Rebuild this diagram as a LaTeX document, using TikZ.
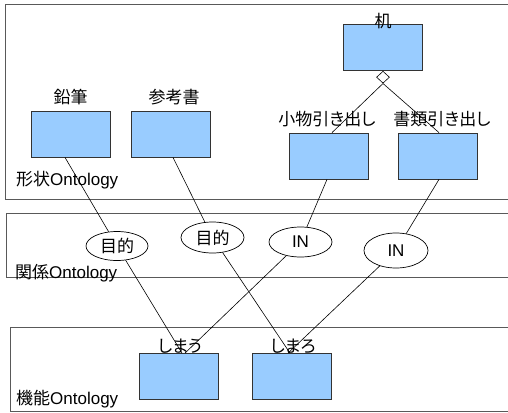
\documentclass[tikz,border=0pt]{standalone}
\usepackage{fontspec}
\setmainfont{Liberation Sans}
\newfontfamily\jp[RawFeature=+palt]{Noto Sans CJK JP}
\usetikzlibrary{shapes.geometric}
\definecolor{boxblue}{HTML}{99CCFF}
\begin{document}
\begin{tikzpicture}[x=1pt,y=-1pt,
  frame/.style={draw=black!65, line width=0.8pt},
  cls/.style={draw=black!80, fill=boxblue, minimum width=79pt, minimum height=46pt, inner sep=0pt, line width=0.8pt},
  rel/.style={ellipse, draw, fill=white, inner sep=0pt, line width=0.7pt, font=\fontsize{17}{20}\selectfont},
  lbl/.style={inner sep=0pt, font=\fontsize{17}{20}\selectfont\jp},
  olbl/.style={inner sep=0pt, anchor=base west, font=\fontsize{17}{20}\selectfont},
  conn/.style={draw, line width=0.6pt}]
\clip (0,0) rectangle (508,412);
\fill[white] (0,0) rectangle (508,412);
% frames
\draw[frame] (5,4) rectangle (530,199);
\draw[frame] (6,213) rectangle (530,277);
\draw[frame] (10,327) rectangle (530,411);
% ontology labels
\node[olbl] (o1) at (16,185.5) {{\jp 形状}Ontology};
\node[olbl] (o2) at (15,278.5) {{\jp 関係}Ontology};
\node[olbl] (o3) at (16,404.5) {{\jp 機能}Ontology};
% shape ontology
\node[cls] (p1) at (70.5,134) {};
\node[cls] (p2) at (170.5,134) {};
\node[cls] (desk) at (383,47.5) {};
\node[cls] (d1) at (328.5,156) {};
\node[cls] (d2) at (437.5,156) {};
\node[lbl, anchor=base] (lp1) at (70.5,103.5) {鉛筆};
\node[lbl, anchor=base] (lp2) at (174,103.5) {参考書};
\node[lbl, anchor=base] (ldesk) at (383,28) {机};
\node[lbl, anchor=base] (ld1) at (327,125.5) {小物引き出し};
\node[lbl, anchor=base] (ld2) at (442,125.5) {書類引き出し};
\node[diamond, draw, fill=white, minimum width=13pt, minimum height=12pt, inner sep=0pt, line width=0.6pt, anchor=north] (dm) at (desk.south) {};
% relation ontology
\node[rel, minimum width=62pt, minimum height=29pt] (e1) at (117,246) {\jp 目的};
\node[rel, minimum width=63pt, minimum height=31pt] (e2) at (212.5,237.5) {\jp 目的};
\node[rel, minimum width=63pt, minimum height=30pt] (e3) at (300.5,242) {IN};
\node[rel, minimum width=64pt, minimum height=35pt] (e4) at (396,250.5) {IN};
% function ontology
\node[cls] (f1) at (178.5,376.5) {};
\node[cls] (f2) at (291.5,376.5) {};
\node[lbl, anchor=base] (lf1) at (180,352) {しまう};
\node[lbl, anchor=base] (lf2) at (293,352) {しまろ};
% connectors
\draw[conn] (dm.south) -- ([xshift=3.5pt]d1.north);
\draw[conn] (dm.south) -- ([xshift=1.5pt]d2.north);
\draw[conn] ([xshift=-5.5pt]p1.south) -- (e1);
\draw[conn] ([xshift=2.5pt]p2.south) -- (e2);
\draw[conn] ([xshift=-1.5pt]d1.south) -- (e3);
\draw[conn] ([xshift=1.5pt]d2.south) -- (e4);
\draw[conn] (e1) -- ([xshift=3.5pt]f1.north);
\draw[conn] (e3) -- ([xshift=6.5pt]f1.north);
\draw[conn] (e2) -- ([xshift=-1.5pt]f2.north);
\draw[conn] (e4) -- ([xshift=-3.5pt]f2.north);
\end{tikzpicture}
\end{document}
